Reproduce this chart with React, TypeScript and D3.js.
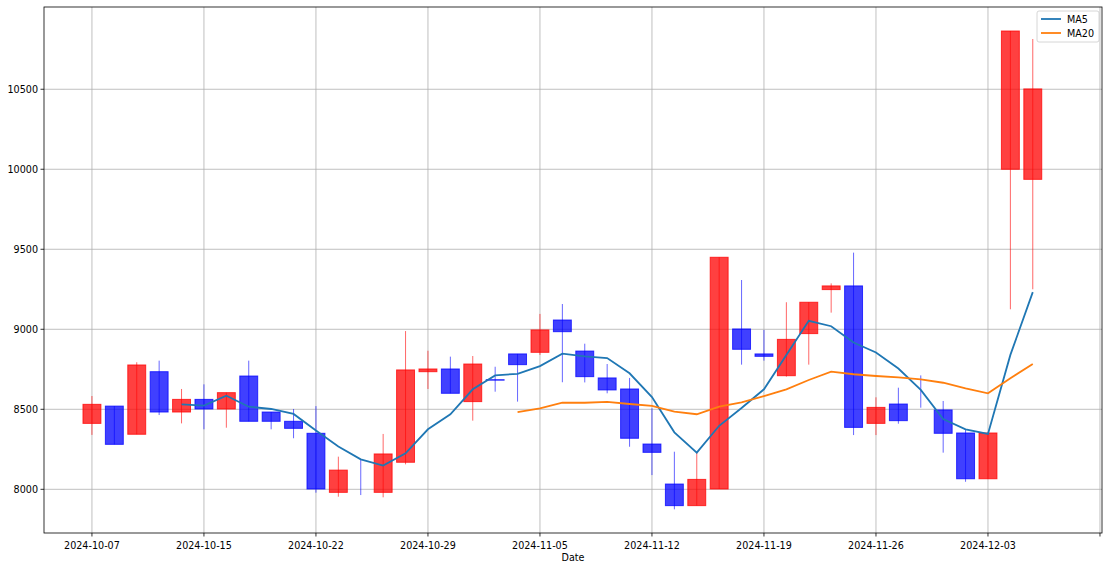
import React from "react";
import * as d3 from "d3";

const dates = [
  "2024-10-07","2024-10-08","2024-10-09","2024-10-10","2024-10-11",
  "2024-10-15","2024-10-16","2024-10-17","2024-10-18","2024-10-21",
  "2024-10-22","2024-10-23","2024-10-24","2024-10-25","2024-10-28",
  "2024-10-29","2024-10-30","2024-10-31","2024-11-01","2024-11-04",
  "2024-11-05","2024-11-06","2024-11-07","2024-11-08","2024-11-11",
  "2024-11-12","2024-11-13","2024-11-14","2024-11-15","2024-11-18",
  "2024-11-19","2024-11-20","2024-11-21","2024-11-22","2024-11-25",
  "2024-11-26","2024-11-27","2024-11-28","2024-11-29","2024-12-02",
  "2024-12-03","2024-12-04","2024-12-05",
];

const openVals = [
  8412, 8520, 8344, 8735, 8483, 8562, 8502, 8708, 8483, 8425,
  8350, 7981, 8030, 7981, 8169, 8735, 8752, 8548, 8685, 8846,
  8856, 9058, 8864, 8696, 8627, 8283, 8033, 7898, 8002, 9002,
  8846, 8710, 8973, 9248, 9271, 8412, 8533, 8515, 8496, 8352,
  8066, 10000, 9937,
];
const highVals = [
  8583, 8520, 8794, 8804, 8627, 8656, 8604, 8804, 8483, 8502,
  8520, 8204, 8187, 8346, 8989, 8866, 8829, 8833, 8766, 8846,
  9096, 9158, 8910, 8783, 8696, 8506, 8235, 8231, 9450, 9308,
  8996, 9169, 9169, 9287, 9479, 8575, 8635, 8712, 8552, 8371,
  8352, 10864, 10814,
];
const lowVals = [
  8340, 8281, 8344, 8464, 8412, 8375, 8385, 8425, 8375, 8319,
  7979, 7954, 7964, 7950, 8156, 8627, 8600, 8429, 8610, 8548,
  8840, 8669, 8668, 8600, 8266, 8089, 7875, 7898, 8002, 8779,
  8804, 8704, 8779, 9104, 8339, 8339, 8410, 8510, 8229, 8047,
  8066, 9125, 9250,
];
const closeVals = [
  8531, 8281, 8777, 8483, 8562, 8502, 8604, 8425, 8425, 8381,
  8002, 8120, 8030, 8221, 8746, 8752, 8600, 8783, 8682, 8779,
  8996, 8985, 8704, 8621, 8319, 8231, 7898, 8062, 9450, 8875,
  8831, 8937, 9169, 9271, 8387, 8512, 8429, 8515, 8350, 8066,
  8352, 10864, 10502,
];

const ma5 = [
  null, null, null, null,
  8531, 8523, 8585, 8516, 8502, 8471, 8367, 8268, 8187, 8148,
  8225, 8375, 8469, 8625, 8712, 8722, 8770, 8848, 8831, 8820,
  8725, 8576, 8356, 8229, 8397, 8508, 8625, 8840, 9053, 9019,
  8917, 8855, 8755, 8621, 8439, 8375, 8346, 8840, 9232,
];
const ma20 = [
  null, null, null, null, null, null, null, null, null, null,
  null, null, null, null, null, null, null, null, null,
  8483, 8506, 8541, 8541, 8546, 8533, 8521, 8485, 8469, 8516,
  8544, 8583, 8625, 8683, 8735, 8719, 8708, 8700, 8687, 8666,
  8631, 8600, 8694, 8783,
];

const yTicks = [8000, 8500, 9000, 9500, 10000, 10500];
const xTickIdx = [0, 5, 10, 15, 20, 25, 30, 35, 40, 45];
const legendLabels = ["MA5", "MA20"];

const W = 1109;
const H = 569;
const L = 44, R = 1102, T = 7, B = 533;
const UP = "#ff0000";
const DOWN = "#0000ff";
const FONT = "DejaVu Sans, sans-serif";

export default function App() {
  const x = d3.scaleLinear().domain([-2.14, 45.09]).range([L, R]);
  const y = d3.scaleLinear().domain([7727, 11014]).range([B, T]);
  const bw = (x(0.8) - x(0));

  const line = d3
    .line<number | null>()
    .defined((d) => d !== null)
    .x((_, i) => x(i))
    .y((d) => y(d as number));

  return (
    <svg
      width={W}
      height={H}
      style={{ position: "absolute", left: 0, top: 0, background: "#fff" }}
      fontFamily={FONT}
    >
      <rect x={0} y={0} width={W} height={H} fill="#fff" />
      <defs>
        <clipPath id="plot">
          <rect x={L} y={T} width={R - L} height={B - T} />
        </clipPath>
      </defs>
      {/* grid */}
      <g stroke="#b0b0b0" strokeWidth={0.8}>
        {yTicks.map((t) => (
          <line key={"gy" + t} x1={L} x2={R} y1={y(t)} y2={y(t)} />
        ))}
        {xTickIdx.map((t) => (
          <line key={"gx" + t} x1={x(t)} x2={x(t)} y1={T} y2={B} />
        ))}
      </g>
      {/* candles */}
      <g clipPath="url(#plot)">
        {dates.map((d, i) => {
          const o = openVals[i], c = closeVals[i];
          const col = c > o ? UP : DOWN;
          const top = y(Math.max(o, c));
          const bot = y(Math.min(o, c));
          const h = bot - top;
          return (
            <g key={d}>
              <line
                x1={x(i)} x2={x(i)}
                y1={y(highVals[i])} y2={y(lowVals[i])}
                stroke={col} strokeOpacity={0.6} strokeWidth={1}
              />
              {h > 0 && (
                <rect
                  x={x(i) - bw / 2} y={top} width={bw} height={h}
                  fill={col} fillOpacity={0.75}
                  stroke={col} strokeOpacity={0.75} strokeWidth={1}
                />
              )}
            </g>
          );
        })}
        <path d={line(ma5) || ""} fill="none" stroke="#1f77b4" strokeWidth={1.8} />
        <path d={line(ma20) || ""} fill="none" stroke="#ff7f0e" strokeWidth={1.8} />
      </g>
      {/* frame */}
      <rect x={L} y={T} width={R - L} height={B - T} fill="none" stroke="#000" strokeWidth={0.8} />
      {/* y axis */}
      <g fontSize={9.6} fill="#000">
        {yTicks.map((t) => (
          <g key={"yt" + t}>
            <line x1={L - 3.5} x2={L} y1={y(t)} y2={y(t)} stroke="#000" strokeWidth={0.8} />
            <text x={L - 6} y={y(t)} textAnchor="end" dominantBaseline="central">
              {t}
            </text>
          </g>
        ))}
      </g>
      {/* x axis */}
      <g fontSize={9.6} fill="#000">
        {xTickIdx.map((t) => (
          <g key={"xt" + t}>
            <line x1={x(t)} x2={x(t)} y1={B} y2={B + 3.5} stroke="#000" strokeWidth={0.8} />
            <text x={x(t)} y={B + 12} textAnchor="middle" dominantBaseline="central">
              {t < dates.length ? dates[t] : ""}
            </text>
          </g>
        ))}
        <text x={(L + R) / 2} y={B + 24} textAnchor="middle" dominantBaseline="central">
          Date
        </text>
      </g>
      {/* legend */}
      <g fontSize={9.6}>
        <rect x={1037} y={11} width={62} height={31} rx={2} fill="#fff" fillOpacity={0.8} stroke="#cccccc" strokeWidth={0.8} />
        {legendLabels.map((lab, i) => (
          <g key={lab}>
            <line
              x1={1041} x2={1061}
              y1={19 + i * 14} y2={19 + i * 14}
              stroke={i === 0 ? "#1f77b4" : "#ff7f0e"} strokeWidth={1.8}
            />
            <text x={1067} y={19 + i * 14} dominantBaseline="central" fill="#000">
              {lab}
            </text>
          </g>
        ))}
      </g>
    </svg>
  );
}
